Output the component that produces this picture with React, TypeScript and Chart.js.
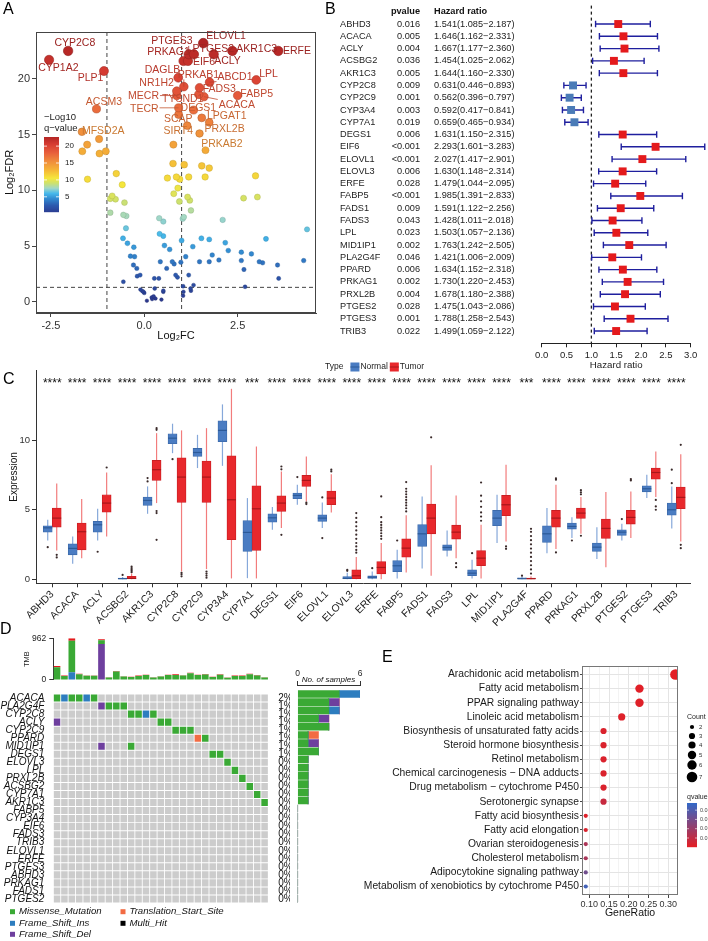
import React, { useEffect, useRef } from 'react';
import { Chart, registerables } from 'chart.js';

Chart.register(...registerables);
const FONT = '"Liberation Sans", Arial, "DejaVu Sans", sans-serif';
Chart.defaults.font.family = FONT;
Chart.defaults.color = '#333333';

// ---------------- Panel A : volcano ----------------
const volcanoX = [-1.53, -1.21, -1.66, -1.2, -1.03, 0.78, 1.64,
  -1.52, -0.75, -0.59, 0.77, 1.07, 0.62, 0.86, 0.95, 1.19, 1.54, 1.74, 1.63, 2.98, 0.9, 0.79,
  -0.86, -0.91, -0.77, -0.53, 0.94, 1.16, 1.22, 2.66, 3.03,
  -0.91, -0.56, -0.48, 1.25, 1.06, 1.03, 0.4, 0.51, 2.1,
  -0.49, 4.36, -0.57, -0.45, -0.28, 0.41, 0.51, 0.54, 0.68, 1.0, 1.3, 1.53, 1.74, 2.17, 2.25, 2.6, 2.87, 3.26, 1.82,
  -0.37, -0.26, -0.29, -0.2, -0.19, -0.11, -0.56, 0.43, 0.6, 0.75, 0.8, 0.84, 0.89, 1.11, 1.19, 0.98, 1.48, 1.74, 2.0, 2.6, 2.67, 3.08, 3.17, 3.57, 4.27, 3.6, 0.27, 0.39, 2.7,
  -0.02, 0.28, 0.51, 1.04, 1.24, 1.32, 1.05, -0.05, 0.0, 0.25, 0.21, 0.07, 0.3, 0.46, 0.51, 1.04, 1.25, 0.2, -0.1];
const volcanoY = [14.1, 14.6, 13.5, 13.3, 13.5, 14.1, 13.6,
  11.0, 11.5, 10.5, 12.4, 12.3, 11.1, 11.2, 11.0, 11.2, 12.2, 12.0, 11.2, 11.3, 10.2, 9.7,
  9.5, 9.25, 9.2, 8.9, 9.0, 9.4, 9.1, 9.3, 9.4,
  8.0, 7.8, 7.7, 8.2, 7.6, 7.45, 7.5, 7.2, 7.35,
  6.6, 6.5, 5.7, 5.25, 4.9, 6.1, 5.9, 5.05, 4.7, 5.5, 4.95, 5.7, 5.6, 5.3, 4.6, 4.45, 4.3, 5.65, 4.2,
  4.1, 4.05, 3.3, 3.0, 2.3, 2.4, 1.8, 3.6, 3.0, 3.6, 3.4, 2.4, 2.2, 4.05, 2.4, 3.55, 3.6, 3.6, 3.75, 3.7, 2.9, 3.6, 3.5, 3.3, 3.7, 2.1, 2.1, 2.1, 1.35,
  0.9, 1.2, 1.0, 1.4, 1.2, 1.5, 0.9, 0.96, 0.8, 0.5, 0.25, 0.1, 0.3, 0.2, 0.9, 0.55, 1.0, 0.4, 1.1];
const labelGenes = ['CYP2C8', 'CYP1A2', 'PLP1', 'ACSM3', 'MFSD2A', 'PTGES3', 'ELOVL1', 'PRKAG1', 'PTGES2', 'AKR1C3', 'ERFE', 'EIF6', 'ACLY',
  'LPL', 'ABCD1', 'DAGLB', 'PRKAB1', 'NR1H2', 'FADS3', 'MECR', 'TYSND1', 'FABP5', 'ACACA', 'TECR', 'DEGS1', 'SCAP', 'LPGAT1', 'SIRT4', 'PRXL2B', 'PRKAB2'];
const labelX = [-2.04, -2.55, -1.08, -1.28, -1.67, 1.19, 1.58, 1.05, 1.33, 2.36, 3.59, 1.17, 1.86,
  3.0, 1.75, 0.91, 1.06, 0.87, 1.48, 0.87, 1.46, 2.5, 1.6, 0.92, 1.32, 0.92, 1.54, 1.15, 1.74, 1.48];
const labelY = [22.5, 21.7, 20.7, 17.3, 15.25, 22.2, 23.2, 21.6, 22.2, 22.5, 22.5, 21.6, 22.2,
  19.9, 19.7, 20.1, 19.3, 18.9, 19.2, 18.5, 18.6, 18.5, 18.4, 17.4, 17.2, 16.8, 16.5, 15.8, 16.1, 15.1];
const labelTextX = [-1.86, -2.3, -1.44, -1.08, -1.1, 0.74, 2.19, 0.65, 1.85, 3.01, 4.09, 1.6, 2.23,
  3.33, 2.43, 0.49, 1.45, 0.33, 2.01, -0.02, 1.03, 3.01, 2.48, 0.0, 1.45, 0.91, 2.21, 0.91, 2.15, 2.08];
const labelTextY = [23.25, 21.05, 20.1, 17.95, 15.4, 23.4, 23.9, 22.4, 22.7, 22.7, 22.5, 21.5, 21.6,
  20.5, 20.2, 20.8, 20.4, 19.7, 19.1, 18.5, 18.2, 18.7, 17.7, 17.3, 17.4, 16.4, 16.7, 15.4, 15.5, 14.2];
const volcanoXTicks = [-2.5, 0, 2.5];
const volcanoYTicks = [0, 5, 10, 15, 20];
const volcanoCutX = [-1, 1];
const volcanoCutY = 1.3;
const qLegendTicks = [5, 10, 15, 20];

// ---------------- Panel B : forest ----------------
const forestGenes = ['ABHD3', 'ACACA', 'ACLY', 'ACSBG2', 'AKR1C3', 'CYP2C8', 'CYP2C9', 'CYP3A4', 'CYP7A1', 'DEGS1', 'EIF6', 'ELOVL1', 'ELOVL3',
  'ERFE', 'FABP5', 'FADS1', 'FADS3', 'LPL', 'MID1IP1', 'PLA2G4F', 'PPARD', 'PRKAG1', 'PRXL2B', 'PTGES2', 'PTGES3', 'TRIB3'];
const forestP = ['0.016', '0.005', '0.004', '0.036', '0.005', '0.009', '0.001', '0.003', '0.019', '0.006', '<0.001', '<0.001', '0.006',
  '0.028', '<0.001', '0.009', '0.043', '0.023', '0.002', '0.046', '0.006', '0.002', '0.004', '0.028', '0.001', '0.022'];
const forestHR = [1.541, 1.646, 1.667, 1.454, 1.644, 0.631, 0.562, 0.592, 0.659, 1.631, 2.293, 2.027, 1.630, 1.479, 1.985, 1.591, 1.428, 1.503, 1.763, 1.421, 1.634, 1.730, 1.678, 1.475, 1.788, 1.499];
const forestLo = [1.085, 1.162, 1.177, 1.025, 1.160, 0.446, 0.396, 0.417, 0.465, 1.150, 1.601, 1.417, 1.148, 1.044, 1.391, 1.122, 1.011, 1.057, 1.242, 1.006, 1.152, 1.220, 1.180, 1.043, 1.258, 1.059];
const forestHi = [2.187, 2.331, 2.360, 2.062, 2.330, 0.893, 0.797, 0.841, 0.934, 2.315, 3.283, 2.901, 2.314, 2.095, 2.833, 2.256, 2.018, 2.136, 2.505, 2.009, 2.318, 2.453, 2.388, 2.086, 2.543, 2.122];
const forestTicks = [0, 0.5, 1, 1.5, 2, 2.5, 3];

// ---------------- Panel C : box plots ----------------
const boxGenes = forestGenes;
const boxSig = ['****', '****', '****', '****', '****', '****', '****', '****', '***', '****', '****', '****', '****', '****', '****', '****', '****', '****', '****', '***', '****', '****', '****', '****', '****', '****'];
const normalQ1 = [3.38, 1.75, 3.38, 0.0, 5.3, 9.74, 8.83, 9.88, 1.99, 4.1, 5.78, 4.15, 0.0, 0.05, 0.53, 2.35, 2.06, 0.24, 3.84, 0.0, 2.64, 3.6, 1.99, 3.14, 6.28, 4.6];
const normalMed = [3.69, 2.21, 3.91, 0.03, 5.66, 10.14, 9.11, 10.7, 3.36, 4.41, 6.02, 4.39, 0.05, 0.14, 0.96, 3.26, 2.28, 0.43, 4.39, 0.03, 3.26, 3.79, 2.3, 3.38, 6.5, 4.99];
const normalQ3 = [3.84, 2.54, 4.15, 0.07, 5.9, 10.46, 9.4, 11.39, 4.22, 4.7, 6.19, 4.63, 0.19, 0.24, 1.34, 3.93, 2.47, 0.67, 4.94, 0.1, 3.84, 4.03, 2.59, 3.55, 6.71, 5.47];
const normalLo = [2.78, 1.1, 2.78, 0.0, 4.7, 9.06, 7.99, 8.15, 0.07, 3.55, 5.35, 3.67, 0.0, 0.0, 0.05, 0.77, 1.63, 0.05, 2.59, 0.0, 1.87, 2.95, 1.44, 2.78, 5.83, 3.65];
const normalHi = [4.27, 3.07, 5.06, 0.15, 6.67, 11.18, 10.38, 12.57, 5.83, 5.18, 6.79, 5.52, 0.45, 0.55, 2.11, 5.95, 3.5, 1.39, 6.07, 0.19, 5.11, 4.46, 3.74, 3.98, 7.5, 6.67];
const normalOut = [[2.3], [], [1.97], [0.3], [7.03, 7.27], [8.63], [], [], [], [], [7.34], [5.88, 2.95], [0.6, 0.67], [0.79], [2.78], [], [], [1.87], [], [0.25], [], [2.78], [], [4.32], [], [6.9, 7.87]];
const tumorQ1 = [3.74, 2.11, 4.82, 0.0, 7.1, 5.52, 5.52, 2.83, 2.06, 4.87, 6.67, 5.35, 0.0, 0.38, 1.58, 3.26, 2.88, 0.96, 4.56, 0.0, 3.74, 4.36, 2.93, 3.96, 7.19, 5.06];
const tumorMed = [4.39, 3.41, 5.47, 0.05, 7.87, 7.34, 7.34, 5.71, 5.06, 5.47, 7.1, 5.83, 0.24, 0.84, 2.23, 4.39, 3.38, 1.51, 5.35, 0.03, 4.39, 4.75, 3.65, 4.44, 7.67, 5.88];
const tumorQ3 = [5.11, 4.03, 6.07, 0.2, 8.54, 8.73, 8.49, 8.87, 6.71, 5.99, 7.46, 6.33, 0.67, 1.27, 2.9, 5.4, 3.88, 2.06, 6.02, 0.08, 4.94, 5.11, 4.32, 4.94, 7.99, 6.62];
const tumorLo = [2.06, 1.51, 3.07, 0.0, 5.47, 0.55, 0.72, 0.05, 0.05, 3.67, 5.59, 4.8, 0.0, 0.0, 0.48, 0.24, 1.51, 0.05, 2.71, 0.0, 2.16, 3.26, 0.86, 2.95, 5.9, 2.71];
const tumorHi = [6.88, 5.76, 7.67, 0.4, 10.5, 10.7, 10.86, 13.69, 9.54, 7.75, 8.83, 7.55, 1.6, 2.6, 4.6, 8.2, 6.02, 3.91, 8.23, 0.2, 6.79, 5.9, 6.26, 6.31, 9.18, 8.99];
const tumorOut = [[1.75, 1.56], [], [8.03], [0.5, 0.6, 0.7, 0.8, 0.9], [10.74, 10.86, 4.9, 4.75, 2.83], [0.2, 0.35, 0.45], [0.1, 0.25, 0.4, 0.55], [], [], [7.9, 8.1, 3.19], [5.4, 5.5], [7.75, 7.87],
  [1.9, 2.1, 2.35, 2.6, 2.9, 3.2, 3.5, 3.8, 4.1, 4.4, 4.75], [2.9, 3.1, 3.3, 3.5, 3.7, 3.9, 4.1, 4.46, 5.95], [4.87, 5.1, 5.3, 5.5, 5.7, 5.9, 6.1, 6.3, 6.5, 6.98], [10.2], [1.15, 0.86],
  [4.2, 4.5, 4.8, 5.2, 5.6, 6.0, 6.95], [2.35, 2.18], [0.4, 0.7, 1.0, 1.3, 1.6, 1.9, 2.2, 2.5, 2.8, 3.1, 3.4, 3.62], [7.15, 7.25, 1.92], [6.1, 6.25, 6.4, 3.12], [], [7.1, 7.2], [5.7, 5.23, 4.99], [9.66, 2.47, 2.23]];
const boxYTicks = [0, 5, 10];
const sigLevel = 14.3;

// ---------------- Panel D : oncoplot ----------------
const oncoSamples = Array.from({ length: 29 }, (_, i) => 'S' + (i + 1));
const tmbIns = [10, 0, 175, 0, 0, 0, 0, 0, 10, 0, 0, 0, 8, 0, 0, 0, 0, 0, 0, 0, 0, 0, 0, 0, 0, 0, 0, 0, 0];
const tmbDel = [0, 0, 0, 0, 0, 0, 830, 0, 0, 0, 0, 0, 0, 0, 0, 0, 0, 0, 0, 0, 0, 0, 0, 0, 0, 0, 0, 0, 0];
const tmbMissense = [283, 92, 732, 129, 94, 94, 85, 54, 186, 81, 68, 90, 103, 55, 81, 111, 116, 100, 156, 111, 122, 68, 118, 49, 92, 92, 129, 104, 54];
const tmbOther = [30, 8, 55, 12, 6, 6, 27, 6, 12, 6, 6, 10, 10, 5, 6, 10, 12, 8, 12, 10, 12, 6, 10, 5, 8, 8, 12, 10, 6];
const tmbTicks = [0, 962];
const oncoGenes = ['ACACA', 'PLA2G4F', 'CYP2C8', 'ACLY', 'CYP2C9', 'PPARD', 'MID1IP1', 'DEGS1', 'ELOVL3', 'LPL', 'PRXL2B', 'ACSBG2', 'CYP7A1',
  'AKR1C3', 'FABP5', 'CYP3A4', 'EIF6', 'FADS3', 'TRIB3', 'ELOVL1', 'ERFE', 'PTGES3', 'ABHD3', 'PRKAG1', 'FADS1', 'PTGES2'];
const oncoPct = ['2%', '1%', '1%', '1%', '1%', '1%', '1%', '1%', '0%', '0%', '0%', '0%', '0%', '0%', '0%', '0%', '0%', '0%', '0%', '0%', '0%', '0%', '0%', '0%', '0%', '0%'];
const mutationCalls: [string, number, string][] = [
  ['ACACA', 0, 'Missense_Mutation'], ['ACACA', 1, 'Frame_Shift_Ins'], ['ACACA', 2, 'Missense_Mutation'], ['ACACA', 3, 'Missense_Mutation'], ['ACACA', 4, 'Frame_Shift_Ins'], ['ACACA', 5, 'Missense_Mutation'],
  ['PLA2G4F', 6, 'Frame_Shift_Del'], ['PLA2G4F', 7, 'Missense_Mutation'], ['PLA2G4F', 8, 'Missense_Mutation'], ['PLA2G4F', 9, 'Missense_Mutation'],
  ['CYP2C8', 10, 'Missense_Mutation'], ['CYP2C8', 11, 'Missense_Mutation'], ['CYP2C8', 12, 'Frame_Shift_Ins'], ['CYP2C8', 13, 'Missense_Mutation'],
  ['ACLY', 0, 'Frame_Shift_Del'], ['ACLY', 14, 'Missense_Mutation'], ['ACLY', 15, 'Missense_Mutation'],
  ['CYP2C9', 16, 'Missense_Mutation'], ['CYP2C9', 17, 'Missense_Mutation'], ['CYP2C9', 18, 'Missense_Mutation'],
  ['PPARD', 19, 'Translation_Start_Site'], ['PPARD', 20, 'Missense_Mutation'],
  ['MID1IP1', 6, 'Frame_Shift_Del'], ['MID1IP1', 10, 'Missense_Mutation'],
  ['DEGS1', 21, 'Missense_Mutation'], ['DEGS1', 22, 'Missense_Mutation'],
  ['ELOVL3', 23, 'Missense_Mutation'], ['LPL', 24, 'Missense_Mutation'], ['PRXL2B', 25, 'Missense_Mutation'],
  ['ACSBG2', 26, 'Missense_Mutation'], ['CYP7A1', 27, 'Missense_Mutation'], ['AKR1C3', 28, 'Missense_Mutation']];
const mutTypes = ['Missense_Mutation', 'Frame_Shift_Ins', 'Frame_Shift_Del', 'Translation_Start_Site', 'Multi_Hit'];
const sideTicks = [0, 6];

// ---------------- Panel E : enrichment ----------------
const pathways = ['Arachidonic acid metabolism', 'Fatty acid metabolism', 'PPAR signaling pathway', 'Linoleic acid metabolism',
  'Biosynthesis of unsaturated fatty acids', 'Steroid hormone biosynthesis', 'Retinol metabolism', 'Chemical carcinogenesis \u2212 DNA adducts',
  'Drug metabolism \u2212 cytochrome P450', 'Serotonergic synapse', 'Fatty acid biosynthesis', 'Fatty acid elongation', 'Ovarian steroidogenesis',
  'Cholesterol metabolism', 'Adipocytokine signaling pathway', 'Metabolism of xenobiotics by cytochrome P450'];
const geneRatio = [0.318, 0.227, 0.227, 0.182, 0.136, 0.136, 0.136, 0.136, 0.136, 0.136, 0.091, 0.091, 0.091, 0.091, 0.091, 0.091];
const geneCount = [7, 5, 5, 4, 3, 3, 3, 3, 3, 3, 2, 2, 2, 2, 2, 2];
const qValue = [0.0008, 0.0012, 0.0015, 0.002, 0.003, 0.003, 0.003, 0.003, 0.003, 0.008, 0.002, 0.003, 0.015, 0.016, 0.031, 0.043];
const ratioTicks = [0.1, 0.125, 0.15, 0.175, 0.2, 0.225, 0.25, 0.275, 0.3];
const countLegend = [2, 3, 4, 5, 6, 7];
const qLegend = [0.01, 0.02, 0.03, 0.04];

// ---------------- helpers ----------------
type RGB = [number, number, number];
const mix = (a: RGB, b: RGB, t: number): RGB => [a[0] + (b[0] - a[0]) * t, a[1] + (b[1] - a[1]) * t, a[2] + (b[2] - a[2]) * t];
const rgbStr = (c: RGB, k = 1) => `rgb(${Math.round(c[0] * k)},${Math.round(c[1] * k)},${Math.round(c[2] * k)})`;
const volcanoStops: [number, RGB][] = [
  [0, [44, 55, 140]], [2.5, [45, 90, 175]], [4.5, [50, 140, 210]], [6, [70, 185, 235]], [7.5, [160, 215, 200]], [9, [205, 225, 110]],
  [10.5, [245, 230, 60]], [13, [245, 180, 55]], [15.5, [240, 140, 60]], [18, [232, 95, 60]], [20.5, [215, 60, 50]], [23, [175, 35, 35]]];
function volcanoRGB(v: number): RGB {
  if (v <= volcanoStops[0][0]) return volcanoStops[0][1];
  for (let i = 1; i < volcanoStops.length; i++) {
    const [v1, c1] = volcanoStops[i];
    if (v <= v1) {
      const [v0, c0] = volcanoStops[i - 1];
      return mix(c0, c1, (v - v0) / (v1 - v0));
    }
  }
  return volcanoStops[volcanoStops.length - 1][1];
}
const Q_LO = 0.0003, Q_HI = 0.0477;
const qRGB = (q: number): RGB => mix([228, 30, 36], [50, 105, 200], Math.max(0, Math.min(1, (q - Q_LO) / (Q_HI - Q_LO))));
const mutColor: Record<string, string> = {
  Missense_Mutation: '#3AA935', Frame_Shift_Ins: '#2D7DBF', Frame_Shift_Del: '#6E3F9E', Translation_Start_Site: '#F26B43', Multi_Hit: '#000000',
};
const countRadius = (c: number) => [0, 1.5, 2.1, 3.1, 3.6, 4.2, 4.7, 5.3][c] || 2;
const font = (size: number, extra = '') => `${extra} ${size}px ${FONT}`.trim();

function baseOptions(padding: any) {
  return {
    responsive: false, maintainAspectRatio: false, animation: false, devicePixelRatio: 1, events: [],
    layout: { padding },
    plugins: { legend: { display: false }, tooltip: { enabled: false } },
  };
}

// ---------------- Panel A chart ----------------
function makeVolcano() {
  const pts = volcanoX.map((x, i) => ({ x, y: volcanoY[i] })).sort((a, b) => a.y - b.y);
  const lab = labelGenes.map((_, i) => ({ x: labelX[i], y: labelY[i] })).sort((a, b) => a.y - b.y);
  const rad = (c: any) => 1.8 + 0.13 * (c.raw ? c.raw.y : 0);
  const bg = (c: any) => rgbStr(volcanoRGB(c.raw ? c.raw.y : 0));
  const bd = (c: any) => rgbStr(volcanoRGB(c.raw ? c.raw.y : 0), 0.78);
  const plugin = {
    id: 'volcanoExtras',
    beforeDatasetsDraw(chart: any) {
      const { ctx, chartArea: a, scales: { x, y } } = chart;
      ctx.save();
      ctx.strokeStyle = '#444'; ctx.lineWidth = 1; ctx.setLineDash([4, 3]);
      volcanoCutX.forEach((v) => { const p = x.getPixelForValue(v); ctx.beginPath(); ctx.moveTo(p, a.top); ctx.lineTo(p, a.bottom); ctx.stroke(); });
      const py = y.getPixelForValue(volcanoCutY);
      ctx.beginPath(); ctx.moveTo(a.left, py); ctx.lineTo(a.right, py); ctx.stroke();
      ctx.restore();
    },
    afterDatasetsDraw(chart: any) {
      const { ctx, chartArea: a, scales: { x, y } } = chart;
      ctx.save();
      ctx.font = font(10.5);
      ctx.textAlign = 'center'; ctx.textBaseline = 'middle';
      labelGenes.forEach((g, i) => {
        const px = x.getPixelForValue(labelX[i]), py = y.getPixelForValue(labelY[i]);
        const tx = x.getPixelForValue(labelTextX[i]), ty = y.getPixelForValue(labelTextY[i]);
        const col = rgbStr(volcanoRGB(labelY[i]), 0.84);
        const w = ctx.measureText(g).width;
        const x0 = tx - w / 2 - 1, x1 = tx + w / 2 + 1, y0 = ty - 5, y1 = ty + 5;
        const cx = Math.max(x0, Math.min(x1, px)), cy = Math.max(y0, Math.min(y1, py));
        const d = Math.hypot(cx - px, cy - py);
        if (d > 6) {
          ctx.strokeStyle = col; ctx.lineWidth = 0.8;
          ctx.beginPath(); ctx.moveTo(px, py); ctx.lineTo(cx, cy); ctx.stroke();
        }
        ctx.fillStyle = col;
        ctx.fillText(g, tx, ty + 0.5);
      });
      // colour legend
      const lx = 44, lw = 15, top = 137, bot = 212, vmin = 0.5, vmax = 22.7;
      for (let yy = top; yy < bot; yy++) {
        const v = vmin + (bot - yy - 0.5) / (bot - top) * (vmax - vmin);
        ctx.fillStyle = rgbStr(volcanoRGB(v));
        ctx.fillRect(lx, yy, lw, 1.2);
      }
      ctx.fillStyle = '#222'; ctx.textAlign = 'left';
      ctx.font = font(9.5);
      ctx.fillText('\u2212Log10', lx, 117);
      ctx.fillText('q\u2212value', lx, 128);
      ctx.font = font(8);
      qLegendTicks.forEach((v) => {
        const yy = bot - (v - vmin) / (vmax - vmin) * (bot - top);
        ctx.strokeStyle = '#fff'; ctx.lineWidth = 0.8;
        ctx.beginPath(); ctx.moveTo(lx, yy); ctx.lineTo(lx + 3, yy); ctx.moveTo(lx + lw - 3, yy); ctx.lineTo(lx + lw, yy); ctx.stroke();
        ctx.fillStyle = '#222';
        ctx.fillText(String(v), lx + lw + 6, yy);
      });
      // panel border
      ctx.strokeStyle = '#444'; ctx.lineWidth = 1;
      ctx.strokeRect(a.left + 0.5, a.top + 0.5, a.right - a.left - 1, a.bottom - a.top - 1);
      ctx.restore();
    },
  };
  return {
    type: 'scatter',
    data: {
      datasets: [
        { data: lab, pointRadius: rad, backgroundColor: bg, borderColor: bd, borderWidth: 0.6 },
        { data: pts, pointRadius: rad, backgroundColor: bg, borderColor: bd, borderWidth: 0.4 },
      ],
    },
    options: {
      ...baseOptions({ left: 0, top: 32, right: 14, bottom: 0 }),
      scales: {
        x: {
          type: 'linear', min: -2.9, max: 4.6,
          afterFit: (s: any) => { s.height = 32; },
          afterBuildTicks: (s: any) => { s.ticks = volcanoXTicks.map((v) => ({ value: v })); },
          ticks: { callback: (v: any) => Number(v).toFixed(1), font: { size: 11 }, color: '#333', padding: 2, maxRotation: 0 },
          grid: { drawOnChartArea: false, drawTicks: true, tickLength: 4, color: '#444' },
          border: { color: '#444' },
          title: { display: true, text: 'Log\u2082FC', font: { size: 11 }, color: '#111', padding: { top: 0, bottom: 2 } },
        },
        y: {
          type: 'linear', min: -1, max: 24.2,
          afterFit: (s: any) => { s.width = 36; },
          afterBuildTicks: (s: any) => { s.ticks = volcanoYTicks.map((v) => ({ value: v })); },
          ticks: { font: { size: 11 }, color: '#333', padding: 2 },
          grid: { drawOnChartArea: false, drawTicks: true, tickLength: 4, color: '#444' },
          border: { color: '#444' },
          title: { display: true, text: 'Log\u2082FDR', font: { size: 11 }, color: '#111', padding: { top: 3, bottom: 0 } },
        },
      },
    },
    plugins: [plugin],
  };
}

// ---------------- Panel B chart ----------------
function makeForest() {
  const pts = forestGenes.map((_, i) => ({ x: forestHR[i], y: i }));
  const plugin = {
    id: 'forestExtras',
    beforeDatasetsDraw(chart: any) {
      const { ctx, chartArea: a, scales: { x, y } } = chart;
      ctx.save();
      ctx.strokeStyle = '#222'; ctx.lineWidth = 1.3; ctx.setLineDash([3, 3]);
      const p1 = x.getPixelForValue(1);
      ctx.beginPath(); ctx.moveTo(p1, a.top); ctx.lineTo(p1, a.bottom); ctx.stroke();
      ctx.setLineDash([]);
      ctx.strokeStyle = '#1F1F9E'; ctx.lineWidth = 1.4;
      forestGenes.forEach((_, i) => {
        const yy = y.getPixelForValue(i);
        const x0 = x.getPixelForValue(forestLo[i]), x1 = x.getPixelForValue(forestHi[i]);
        ctx.beginPath();
        ctx.moveTo(x0, yy); ctx.lineTo(x1, yy);
        ctx.moveTo(x0, yy - 3.2); ctx.lineTo(x0, yy + 3.2);
        ctx.moveTo(x1, yy - 3.2); ctx.lineTo(x1, yy + 3.2);
        ctx.stroke();
      });
      // text columns
      ctx.textBaseline = 'middle';
      const hy = y.getPixelForValue(-1);
      ctx.fillStyle = '#111';
      ctx.font = font(9.2, 'bold');
      ctx.textAlign = 'right'; ctx.fillText('pvalue', 90, hy);
      ctx.textAlign = 'left'; ctx.fillText('Hazard ratio', 104, hy);
      ctx.font = font(9.2);
      ctx.fillStyle = '#222';
      forestGenes.forEach((g, i) => {
        const yy = y.getPixelForValue(i);
        ctx.textAlign = 'left'; ctx.fillText(g, 10, yy);
        ctx.textAlign = 'right'; ctx.fillText(forestP[i], 90, yy);
        ctx.textAlign = 'left';
        ctx.fillText(`${forestHR[i].toFixed(3)}(${forestLo[i].toFixed(3)}\u2212${forestHi[i].toFixed(3)})`, 104, yy);
      });
      ctx.restore();
    },
  };
  return {
    type: 'scatter',
    data: {
      datasets: [{
        data: pts, pointStyle: 'rect', pointRadius: 5.6, borderWidth: 0, clip: false,
        backgroundColor: (c: any) => (c.raw && c.raw.x < 1 ? '#4A7BB7' : '#E41A1C'),
      }],
    },
    options: {
      ...baseOptions({ left: 211.7, top: 4.5, right: 17.3, bottom: 0 }),
      scales: {
        x: {
          type: 'linear', min: 0, max: 3,
          afterFit: (s: any) => { s.height = 28.7; },
          afterBuildTicks: (s: any) => { s.ticks = forestTicks.map((v) => ({ value: v })); },
          ticks: { callback: (v: any) => Number(v).toFixed(1), font: { size: 9.5 }, color: '#222', padding: 2, maxRotation: 0 },
          grid: { drawOnChartArea: false, tickLength: 4, color: '#222' },
          border: { color: '#222' },
          title: { display: true, text: 'Hazard ratio', font: { size: 9.7 }, color: '#222', padding: { top: 0, bottom: 1 } },
        },
        y: { type: 'linear', display: false, reverse: true, min: -1.5, max: 26 },
      },
    },
    plugins: [plugin],
  };
}

// ---------------- Panel C chart ----------------
const BLUE = '#4A7CC2', RED = '#E8282C';
function makeBox() {
  const plugin = {
    id: 'boxExtras',
    beforeDatasetsDraw(chart: any) {
      const { ctx, scales: { y } } = chart;
      ctx.save();
      [0, 1].forEach((d) => {
        const lo = d ? tumorLo : normalLo, hi = d ? tumorHi : normalHi;
        ctx.strokeStyle = d ? '#F27C7C' : '#86A8DA'; ctx.lineWidth = 1.2;
        chart.getDatasetMeta(d).data.forEach((el: any, i: number) => {
          ctx.beginPath(); ctx.moveTo(el.x, y.getPixelForValue(lo[i])); ctx.lineTo(el.x, y.getPixelForValue(hi[i])); ctx.stroke();
        });
      });
      ctx.restore();
    },
    afterDatasetsDraw(chart: any) {
      const { ctx, scales: { x, y } } = chart;
      ctx.save();
      [0, 1].forEach((d) => {
        const med = d ? tumorMed : normalMed, out = d ? tumorOut : normalOut;
        chart.getDatasetMeta(d).data.forEach((el: any, i: number) => {
          const w = el.width || 9;
          const my = y.getPixelForValue(med[i]);
          ctx.strokeStyle = d ? '#A8161A' : '#2C5A98'; ctx.lineWidth = 1.2;
          ctx.beginPath(); ctx.moveTo(el.x - w / 2, my); ctx.lineTo(el.x + w / 2, my); ctx.stroke();
          ctx.fillStyle = '#3a2a2a';
          out[i].forEach((v) => { ctx.beginPath(); ctx.arc(el.x, y.getPixelForValue(v), 1.1, 0, Math.PI * 2); ctx.fill(); });
        });
      });
      // significance stars
      ctx.fillStyle = '#111'; ctx.font = font(12); ctx.textAlign = 'center'; ctx.textBaseline = 'alphabetic';
      boxSig.forEach((s, i) => ctx.fillText(s, x.getPixelForValue(i), y.getPixelForValue(sigLevel) + 7));
      // legend
      ctx.font = font(8.5); ctx.textAlign = 'left'; ctx.textBaseline = 'middle'; ctx.fillStyle = '#222';
      let lx = 325; const ly = 7;
      ctx.fillText('Type', lx, ly); lx += ctx.measureText('Type').width + 7;
      [['Normal', BLUE, '#2C5A98'], ['Tumor', RED, '#A8161A']].forEach(([t, c, m]) => {
        ctx.fillStyle = c; ctx.fillRect(lx, ly - 4.5, 9, 9);
        ctx.strokeStyle = m; ctx.lineWidth = 1; ctx.beginPath(); ctx.moveTo(lx, ly); ctx.lineTo(lx + 9, ly); ctx.stroke();
        lx += 10; ctx.fillStyle = '#222'; ctx.fillText(t, lx, ly); lx += ctx.measureText(t).width + 2;
      });
      ctx.restore();
    },
  };
  return {
    type: 'bar',
    data: {
      datasets: [
        { label: 'Normal', data: boxGenes.map((_, i) => ({ x: i, y: [normalQ1[i], normalQ3[i]] })), backgroundColor: BLUE, borderColor: '#3C6AAA', borderWidth: 0.8, borderSkipped: false, barThickness: 9 },
        { label: 'Tumor', data: boxGenes.map((_, i) => ({ x: i, y: [tumorQ1[i], tumorQ3[i]] })), backgroundColor: RED, borderColor: '#C81E22', borderWidth: 0.8, borderSkipped: false, barThickness: 9 },
      ],
    },
    options: {
      ...baseOptions({ left: 0, top: 10.6, right: 18, bottom: 0 }),
      scales: {
        x: {
          type: 'linear', min: -0.65, max: 25.55, offset: false,
          afterFit: (s: any) => { s.height = 44.7; },
          afterBuildTicks: (s: any) => { s.ticks = boxGenes.map((_, i) => ({ value: i })); },
          ticks: { autoSkip: false, minRotation: 45, maxRotation: 45, callback: (v: any) => boxGenes[Math.round(Number(v))] || '', font: { size: 10.3 }, color: '#222', padding: 1 },
          grid: { offset: false, drawOnChartArea: false, tickLength: 4, color: '#333' },
          border: { color: '#333' },
        },
        y: {
          type: 'linear', min: -0.3, max: 15,
          afterFit: (s: any) => { s.width = 36; },
          afterBuildTicks: (s: any) => { s.ticks = boxYTicks.map((v) => ({ value: v })); },
          ticks: { font: { size: 9.5 }, color: '#333', padding: 2 },
          grid: { drawOnChartArea: false, tickLength: 4, color: '#333' },
          border: { color: '#333' },
          title: { display: true, text: 'Expression', font: { size: 10 }, color: '#111', padding: { top: 8, bottom: 0 } },
        },
      },
    },
    plugins: [plugin],
  };
}

// ---------------- Panel D charts ----------------
function makeTmb() {
  const ds = (data: number[], c: string) => ({ data, backgroundColor: c, barPercentage: 0.9, categoryPercentage: 1, borderWidth: 0 });
  return {
    type: 'bar',
    data: {
      labels: oncoSamples,
      datasets: [ds(tmbIns, mutColor.Frame_Shift_Ins), ds(tmbDel, mutColor.Frame_Shift_Del), ds(tmbMissense, mutColor.Missense_Mutation), ds(tmbOther, '#E31A1C')],
    },
    options: {
      ...baseOptions({ left: 0, top: 8.3, right: 1.7, bottom: 2 }),
      scales: {
        x: { stacked: true, display: false },
        y: {
          stacked: true, min: 0, max: 962,
          afterFit: (s: any) => { s.width = 53.3; },
          afterBuildTicks: (s: any) => { s.ticks = tmbTicks.map((v) => ({ value: v })); },
          ticks: { font: { size: 8.5 }, color: '#222', padding: 3 },
          grid: { drawOnChartArea: false, tickLength: 4, color: '#333' },
          border: { color: '#333' },
          title: { display: true, text: 'TMB', font: { size: 7.5 }, color: '#222', padding: { top: 22, bottom: 0 } },
        },
      },
    },
  };
}

function makeOnco() {
  const cellColor = (g: string, s: number) => {
    const hit = mutationCalls.find((m) => m[0] === g && m[1] === s);
    return hit ? mutColor[hit[2]] : '#CCCCCC';
  };
  const plugin = {
    id: 'oncoLegend',
    afterDraw(chart: any) {
      const { ctx } = chart;
      ctx.save();
      ctx.font = font(9.6, 'italic'); ctx.textBaseline = 'middle'; ctx.textAlign = 'left'; ctx.fillStyle = '#111';
      const items: [string, number, number][] = [
        ['Missense_Mutation', 10, 225.7], ['Frame_Shift_Ins', 10, 237.3], ['Frame_Shift_Del', 10, 248.3],
        ['Translation_Start_Site', 120.5, 225.7], ['Multi_Hit', 120.5, 237.3]];
      items.forEach(([t, lx, ly]) => {
        ctx.fillStyle = mutColor[t]; ctx.fillRect(lx, ly - 2.5, 5, 5);
        ctx.fillStyle = '#111'; ctx.fillText(t, lx + 9, ly);
      });
      ctx.restore();
    },
  };
  return {
    type: 'bar',
    data: {
      labels: oncoSamples,
      datasets: oncoGenes.map((g, r) => ({
        data: oncoSamples.map(() => [r + 0.06, r + 0.94]),
        backgroundColor: oncoSamples.map((_, s) => cellColor(g, s)),
        grouped: false, barPercentage: 0.88, categoryPercentage: 1, borderWidth: 0, yAxisID: 'y',
      })),
    },
    options: {
      ...baseOptions({ left: 0, top: 4, right: 0, bottom: 38 }),
      scales: {
        x: { display: false },
        y: {
          type: 'linear', min: 0, max: 26, reverse: true, position: 'left',
          afterFit: (s: any) => { s.width = 53.3; },
          afterBuildTicks: (s: any) => { s.ticks = oncoGenes.map((_, r) => ({ value: r + 0.5 })); },
          ticks: { autoSkip: false, callback: (v: any) => oncoGenes[Math.floor(Number(v))] || '', font: { size: 10, style: 'italic' }, color: '#111', padding: 1 },
          grid: { display: false }, border: { display: false },
        },
        y2: {
          type: 'linear', min: 0, max: 26, reverse: true, position: 'right',
          afterFit: (s: any) => { s.width = 21.7; },
          afterBuildTicks: (s: any) => { s.ticks = oncoPct.map((_, r) => ({ value: r + 0.5 })); },
          ticks: { autoSkip: false, callback: (v: any) => oncoPct[Math.floor(Number(v))] || '', font: { size: 10 }, color: '#111', padding: 2 },
          grid: { display: false }, border: { display: false },
        },
      },
    },
    plugins: [plugin],
  };
}

function makeSide() {
  const cnt = (g: string, t: string) => mutationCalls.filter((m) => m[0] === g && m[2] === t).length;
  const plugin = {
    id: 'sideTitle',
    afterDraw(chart: any) {
      const { ctx } = chart;
      ctx.save();
      ctx.font = font(8, 'italic'); ctx.textAlign = 'center'; ctx.textBaseline = 'middle'; ctx.fillStyle = '#111';
      ctx.fillText('No. of samples', 40.5, 15);
      ctx.restore();
    },
  };
  return {
    type: 'bar',
    data: {
      datasets: mutTypes.slice(0, 4).map((t) => ({
        data: oncoGenes.map((g, r) => ({ y: r + 0.5, x: cnt(g, t) })),
        backgroundColor: mutColor[t], barThickness: 7, borderWidth: 0,
      })),
    },
    options: {
      ...baseOptions({ left: 9.7, top: 0, right: 8, bottom: 3.1 }),
      indexAxis: 'y',
      scales: {
        y: { type: 'linear', min: -0.6, max: 26, reverse: true, display: false, stacked: true, offset: false, grid: { offset: false } },
        x: {
          type: 'linear', position: 'top', min: 0, max: 6, stacked: true,
          afterFit: (s: any) => { s.height = 20; },
          afterBuildTicks: (s: any) => { s.ticks = sideTicks.map((v) => ({ value: v })); },
          ticks: { font: { size: 8.5 }, color: '#222', padding: 2, maxRotation: 0 },
          grid: { drawOnChartArea: false, tickLength: 4, color: '#333' },
          border: { color: '#333' },
        },
      },
    },
    plugins: [plugin],
  };
}

// ---------------- Panel E chart ----------------
function makeDot() {
  const isMajor = (v: number) => Math.abs(v * 20 - Math.round(v * 20)) < 1e-6;
  const plugin = {
    id: 'dotExtras',
    afterDatasetsDraw(chart: any) {
      const { ctx, chartArea: a } = chart;
      ctx.save();
      ctx.strokeStyle = '#777'; ctx.lineWidth = 1;
      ctx.strokeRect(a.left + 0.5, a.top + 0.5, a.right - a.left - 1, a.bottom - a.top - 1);
      // Count legend
      ctx.fillStyle = '#222'; ctx.font = font(7); ctx.textAlign = 'left'; ctx.textBaseline = 'middle';
      ctx.fillText('Count', 332, 77);
      const cy = [87, 96, 105, 115, 125, 137];
      ctx.font = font(6);
      countLegend.forEach((c, i) => {
        ctx.fillStyle = '#000'; ctx.beginPath(); ctx.arc(337, cy[i], countRadius(c), 0, Math.PI * 2); ctx.fill();
        ctx.fillStyle = '#333'; ctx.fillText(String(c), 344, cy[i]);
      });
      // q legend
      ctx.fillStyle = '#222'; ctx.font = font(7);
      ctx.fillText('qvalue', 332, 157);
      const top = 163, bot = 207;
      for (let yy = top; yy < bot; yy++) {
        const q = Q_LO + (bot - yy - 0.5) / (bot - top) * (Q_HI - Q_LO);
        ctx.fillStyle = rgbStr(qRGB(q)); ctx.fillRect(332, yy, 10, 1.2);
      }
      ctx.font = font(5.5);
      qLegend.forEach((q) => {
        const yy = bot - (q - Q_LO) / (Q_HI - Q_LO) * (bot - top);
        ctx.strokeStyle = '#fff'; ctx.lineWidth = 0.6;
        ctx.beginPath(); ctx.moveTo(332, yy); ctx.lineTo(334, yy); ctx.moveTo(340, yy); ctx.lineTo(342, yy); ctx.stroke();
        ctx.fillStyle = '#444'; ctx.fillText(q.toFixed(2), 345, yy);
      });
      ctx.restore();
    },
  };
  return {
    type: 'scatter',
    data: {
      datasets: [{
        data: pathways.map((_, i) => ({ x: geneRatio[i], y: i })),
        pointRadius: (c: any) => countRadius(geneCount[c.dataIndex]),
        backgroundColor: (c: any) => rgbStr(qRGB(qValue[c.dataIndex])),
        borderWidth: 0,
      }],
    },
    options: {
      ...baseOptions({ left: 0, top: 26, right: 30, bottom: 0 }),
      scales: {
        x: {
          type: 'linear', min: 0.0815, max: 0.3245,
          afterFit: (s: any) => { s.height = 35; },
          afterBuildTicks: (s: any) => { s.ticks = ratioTicks.map((v) => ({ value: v })); },
          ticks: { callback: (v: any) => (isMajor(Number(v)) ? Number(v).toFixed(2) : ''), font: { size: 9 }, color: '#333', padding: 1, maxRotation: 0, autoSkip: false },
          grid: {
            color: (c: any) => (c.tick && isMajor(c.tick.value) ? '#E4E4E4' : '#F3F3F3'),
            tickColor: (c: any) => (c.tick && isMajor(c.tick.value) ? '#444' : 'rgba(0,0,0,0)'),
            tickLength: 3, lineWidth: 1,
          },
          border: { display: false },
          title: { display: true, text: 'GeneRatio', font: { size: 10.5 }, color: '#111', padding: { top: 0, bottom: 10.5 } },
        },
        y: {
          type: 'linear', min: -0.6, max: 15.6, reverse: true,
          afterFit: (s: any) => { s.width = 227; },
          afterBuildTicks: (s: any) => { s.ticks = pathways.map((_, i) => ({ value: i })); },
          ticks: { autoSkip: false, callback: (v: any) => pathways[Math.round(Number(v))] || '', font: { size: 10.3 }, color: '#1a1a1a', padding: 1 },
          grid: { color: '#E4E4E4', tickColor: '#444', tickLength: 2 },
          border: { display: false },
        },
      },
    },
    plugins: [plugin],
  };
}

// ---------------- components ----------------
function ChartCanvas(props: { left: number; top: number; width: number; height: number; make: () => any }) {
  const ref = useRef<HTMLCanvasElement | null>(null);
  useEffect(() => {
    if (!ref.current) return undefined;
    const chart = new Chart(ref.current, props.make());
    return () => chart.destroy();
  }, []);
  return (
    <canvas ref={ref} width={props.width} height={props.height}
      style={{ position: 'absolute', left: props.left, top: props.top, width: props.width, height: props.height }} />
  );
}

const letter = (t: string, left: number, top: number) => (
  <div style={{ position: 'absolute', left, top, fontFamily: FONT, fontSize: 16, lineHeight: '16px', color: '#000' }}>{t}</div>
);

export default function App() {
  useEffect(() => { document.body.style.margin = '0'; }, []);
  return (
    <div style={{ position: 'absolute', left: 0, top: 0, width: 708, height: 941, background: '#fff', overflow: 'hidden' }}>
      <ChartCanvas left={0} top={0} width={330} height={345} make={makeVolcano} />
      <ChartCanvas left={330} top={0} width={378} height={372} make={makeForest} />
      <ChartCanvas left={0} top={360} width={708} height={268} make={makeBox} />
      <ChartCanvas left={0} top={630} width={270} height={58} make={makeTmb} />
      <ChartCanvas left={0} top={686} width={290} height={255} make={makeOnco} />
      <ChartCanvas left={288} top={665} width={80} height={241} make={makeSide} />
      <ChartCanvas left={355} top={640} width={353} height={290} make={makeDot} />
      {letter('A', 3, 1)}
      {letter('B', 325, 1)}
      {letter('C', 3, 371)}
      {letter('D', 0, 621)}
      {letter('E', 382, 649)}
    </div>
  );
}
